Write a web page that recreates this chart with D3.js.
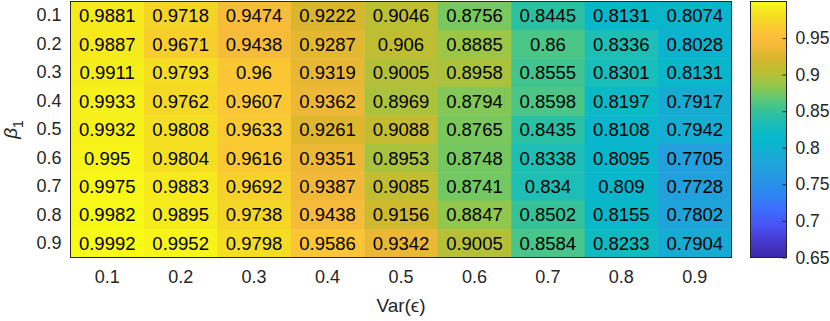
<!DOCTYPE html>
<style>
  body { margin: 0; background: #fff; }
  svg text { font-family: "Liberation Sans", Arial, sans-serif; }
  .axis path { display: none; }
  .axis text { fill: #262626; font-size: 18px; }
  .cell-label { font-size: 18.5px; fill: #000; }
</style>
<svg width="830" height="321"></svg>
<script src="https://cdn.jsdelivr.net/npm/d3@7"></script>
<script>

// tick labels / categories
var varEps = ["0.1", "0.2", "0.3", "0.4", "0.5", "0.6", "0.7", "0.8", "0.9"];
var beta1 = ["0.1", "0.2", "0.3", "0.4", "0.5", "0.6", "0.7", "0.8", "0.9"];

// one row per beta1 value, one entry per Var(eps)
var row01 = [0.9881, 0.9718, 0.9474, 0.9222, 0.9046, 0.8756, 0.8445, 0.8131, 0.8074];
var row02 = [0.9887, 0.9671, 0.9438, 0.9287, 0.906, 0.8885, 0.86, 0.8336, 0.8028];
var row03 = [0.9911, 0.9793, 0.96, 0.9319, 0.9005, 0.8958, 0.8555, 0.8301, 0.8131];
var row04 = [0.9933, 0.9762, 0.9607, 0.9362, 0.8969, 0.8794, 0.8598, 0.8197, 0.7917];
var row05 = [0.9932, 0.9808, 0.9633, 0.9261, 0.9088, 0.8765, 0.8435, 0.8108, 0.7942];
var row06 = [0.995, 0.9804, 0.9616, 0.9351, 0.8953, 0.8748, 0.8338, 0.8095, 0.7705];
var row07 = [0.9975, 0.9883, 0.9692, 0.9387, 0.9085, 0.8741, 0.834, 0.809, 0.7728];
var row08 = [0.9982, 0.9895, 0.9738, 0.9438, 0.9156, 0.8847, 0.8502, 0.8155, 0.7802];
var row09 = [0.9992, 0.9952, 0.9798, 0.9586, 0.9342, 0.9005, 0.8584, 0.8233, 0.7904];
var rows = [row01, row02, row03, row04, row05, row06, row07, row08, row09];

var colorTicks = [0.65, 0.7, 0.75, 0.8, 0.85, 0.9, 0.95];
var colorLimits = [0.65, 1];

// parula-like colormap, stops at [t, r, g, b]
var parulaStops = [
  [0.000, 62, 38, 168], [0.060, 70, 55, 205], [0.125, 72, 82, 244],
  [0.190, 60, 110, 253], [0.250, 45, 135, 240], [0.310, 38, 152, 228],
  [0.375, 30, 165, 215], [0.440, 10, 180, 205], [0.480, 8, 185, 200],
  [0.525, 30, 190, 180], [0.560, 45, 192, 160], [0.600, 75, 198, 135],
  [0.645, 120, 200, 95], [0.680, 155, 198, 70], [0.730, 190, 190, 50],
  [0.780, 218, 182, 45], [0.830, 245, 185, 58], [0.870, 254, 192, 58],
  [0.920, 245, 212, 40], [0.960, 245, 230, 30], [1.000, 249, 251, 21]
];

var parulaInterp = d3.scaleLinear()
    .domain(parulaStops.map(function(s) { return s[0]; }))
    .range(parulaStops.map(function(s) { return d3.rgb(s[1], s[2], s[3]); }))
    .interpolate(d3.interpolateRgb)
    .clamp(true);
var color = d3.scaleLinear().domain(colorLimits).range([0, 1]).clamp(true);
function fillFor(v) { return parulaInterp(color(v)); }

var svg = d3.select("svg"),
    plotL = 70.5, plotR = 731.5, plotT = 1.5, plotB = 257.5;

var x = d3.scaleBand().domain(varEps).range([plotL, plotR]);
var y = d3.scaleBand().domain(beta1).range([plotT, plotB]);

var cells = [];
rows.forEach(function(r, i) {
  r.forEach(function(v, j) {
    cells.push({b: beta1[i], e: varEps[j], v: v});
  });
});

var g = svg.append("g");

g.selectAll("rect.cell")
  .data(cells)
  .enter().append("rect")
    .attr("class", "cell")
    .attr("x", function(d) { return x(d.e); })
    .attr("y", function(d) { return y(d.b); })
    .attr("width", x.bandwidth() + 0.5)
    .attr("height", y.bandwidth() + 0.5)
    .attr("fill", function(d) { return fillFor(d.v); });

g.selectAll("text.cell-label")
  .data(cells)
  .enter().append("text")
    .attr("class", "cell-label")
    .attr("x", function(d) { return x(d.e) + x.bandwidth() / 2; })
    .attr("y", function(d) { return y(d.b) + y.bandwidth() / 2; })
    .attr("dy", "0.36em")
    .attr("text-anchor", "middle")
    .text(function(d) { return String(d.v); });

g.append("rect")
    .attr("x", plotL).attr("y", plotT)
    .attr("width", plotR - plotL).attr("height", plotB - plotT)
    .attr("fill", "none").attr("stroke", "#262626");

// axes
svg.append("g")
    .attr("class", "axis")
    .attr("transform", "translate(0," + plotB + ")")
    .call(d3.axisBottom(x).tickSize(0).tickPadding(13));

svg.append("g")
    .attr("class", "axis")
    .attr("transform", "translate(" + plotL + ",0)")
    .call(d3.axisLeft(y).tickSize(0).tickPadding(9));

svg.append("text")
    .attr("x", (plotL + plotR) / 2)
    .attr("y", 312)
    .attr("text-anchor", "middle")
    .attr("fill", "#262626")
    .style("font-size", "19px")
    .text("Var(\u03F5)");

var yl = svg.append("text")
    .attr("transform", "translate(17," + ((plotT + plotB) / 2) + ") rotate(-90)")
    .attr("text-anchor", "middle")
    .attr("fill", "#262626")
    .style("font-size", "19px");
yl.append("tspan").style("font-style", "italic").text("\u03B2");
yl.append("tspan").attr("dy", 6).style("font-size", "14px").text("1");

// colorbar
var cbL = 750.5, cbR = 786.5;
var cy = d3.scaleLinear().domain(colorLimits).range([plotB, plotT]);

var grad = svg.append("defs").append("linearGradient")
    .attr("id", "cbgrad")
    .attr("x1", 0).attr("y1", 1).attr("x2", 0).attr("y2", 0);
parulaStops.forEach(function(s) {
  grad.append("stop")
      .attr("offset", s[0])
      .attr("stop-color", d3.rgb(s[1], s[2], s[3]));
});

svg.append("rect")
    .attr("x", cbL).attr("y", plotT)
    .attr("width", cbR - cbL).attr("height", plotB - plotT)
    .attr("fill", "url(#cbgrad)")
    .attr("stroke", "#262626");

var cbAxis = svg.append("g")
    .attr("class", "axis")
    .attr("transform", "translate(" + cbR + ",0)")
    .call(d3.axisRight(cy).tickValues(colorTicks).tickSize(-4).tickPadding(9)
      .tickFormat(d3.format("")));
cbAxis.selectAll("line").attr("stroke", "#262626");
cbAxis.selectAll("text").style("font-size", "17.5px");

</script>
